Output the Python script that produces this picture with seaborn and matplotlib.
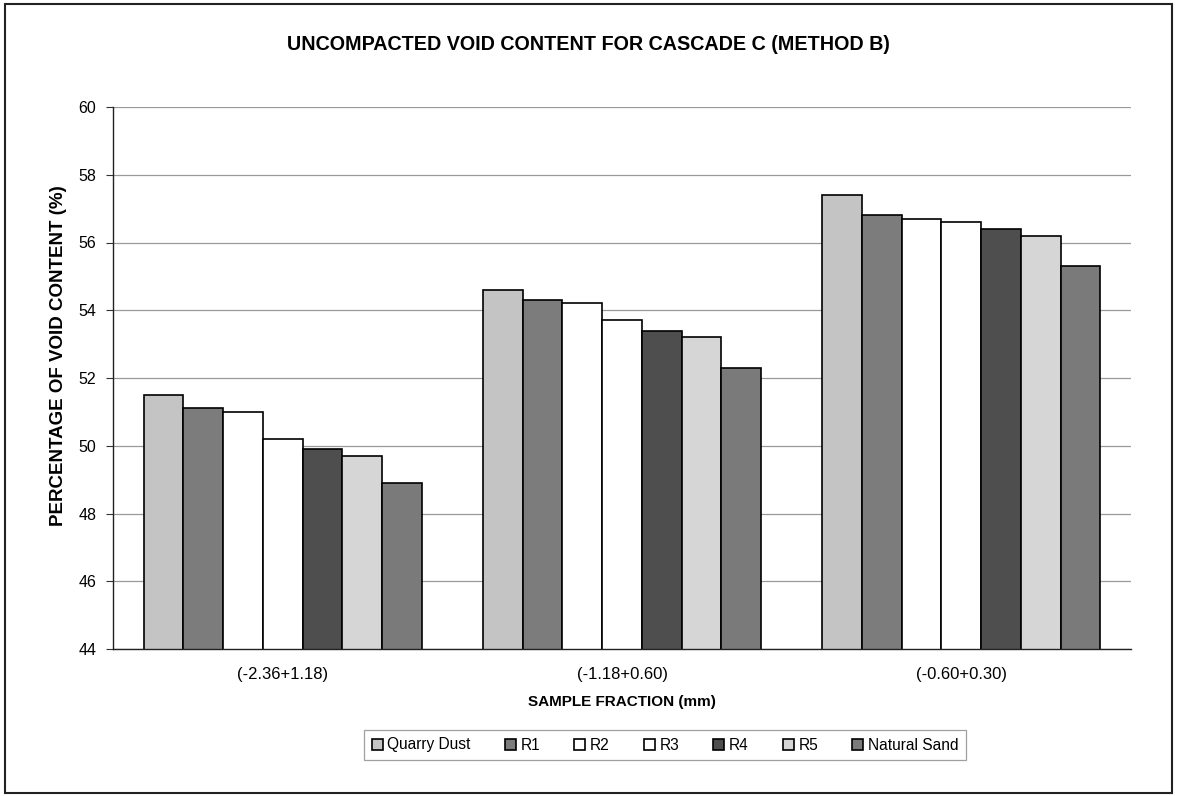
import matplotlib
matplotlib.use("Agg")
import matplotlib.pyplot as plt
from matplotlib.patches import Rectangle
import seaborn as sns
import pandas as pd

# Sample fractions (mm) and materials
fractions = ["(-2.36+1.18)", "(-1.18+0.60)", "(-0.60+0.30)"]
materials = ["Quarry Dust", "R1", "R2", "R3", "R4", "R5", "Natural Sand"]

# Uncompacted void content (%) per material, one value per fraction
quarry_dust = [51.5, 54.6, 57.4]
r1 = [51.1, 54.3, 56.8]
r2 = [51.0, 54.2, 56.7]
r3 = [50.2, 53.7, 56.6]
r4 = [49.9, 53.4, 56.4]
r5 = [49.7, 53.2, 56.2]
natural_sand = [48.9, 52.3, 55.3]

y_ticks = [44, 46, 48, 50, 52, 54, 56, 58, 60]

series = [quarry_dust, r1, r2, r3, r4, r5, natural_sand]
df = pd.DataFrame(
    [(f, m, v) for m, vals in zip(materials, series) for f, v in zip(fractions, vals)],
    columns=["fraction", "material", "void"],
)

palette = ["#c4c4c4", "#7c7c7c", "#ffffff", "#ffffff", "#4e4e4e", "#d6d6d6", "#7a7a7a"]

sns.set_theme(style="white")
plt.rcParams["font.family"] = ["Liberation Sans", "DejaVu Sans"]
plt.rcParams["text.color"] = "black"
plt.rcParams["axes.labelcolor"] = "black"
plt.rcParams["xtick.color"] = "black"
plt.rcParams["ytick.color"] = "black"

fig = plt.figure(figsize=(11.77, 7.96), dpi=100)
ax = fig.add_axes([113 / 1177, 1 - 649 / 796, 1018 / 1177, 542 / 796])

sns.barplot(
    data=df, x="fraction", y="void", hue="material",
    order=fractions, hue_order=materials, palette=palette,
    width=0.82, edgecolor="black", linewidth=1.2, saturation=1,
    ax=ax, legend=True,
)

ax.set_ylim(44, 60)
ax.set_xlim(-0.5, 2.5)
ax.set_yticks(y_ticks)
ax.set_yticklabels([str(t) for t in y_ticks], fontsize=11.5)
ax.tick_params(axis="x", labelsize=12, length=0, pad=13)
ax.tick_params(axis="y", direction="out", length=5, width=0.8, color="#333333", left=True, pad=7)
ax.yaxis.grid(True, color="#9a9a9a", linewidth=0.9)
ax.set_axisbelow(True)

for side in ["top", "right"]:
    ax.spines[side].set_visible(False)
for side in ["left", "bottom"]:
    ax.spines[side].set_color("#222222")
    ax.spines[side].set_linewidth(1.0)

ax.set_xlabel("SAMPLE FRACTION (mm)", fontsize=11, fontweight="bold", labelpad=9)
ax.set_ylabel("PERCENTAGE OF VOID CONTENT (%)", fontsize=13.5, fontweight="bold")
ax.yaxis.set_label_coords(-0.045, 0.542)

fig.text(0.5, 1 - 45 / 796, "UNCOMPACTED VOID CONTENT FOR CASCADE C (METHOD B)",
         ha="center", va="center", fontsize=14.2, fontweight="bold")

handles, labels = ax.get_legend_handles_labels()
ax.legend_.remove()
leg = fig.legend(
    handles, labels, loc="center", bbox_to_anchor=(665 / 1177, 1 - 745 / 796),
    ncol=7, fontsize=11.2, frameon=True, fancybox=False, handlelength=0.7,
    handleheight=0.7, handletextpad=0.3, columnspacing=2.2, borderpad=0.5,
)
leg.get_frame().set_edgecolor("#888888")
leg.get_frame().set_linewidth(0.9)

# Outer chart border
fig.patches.append(Rectangle((5 / 1177, 3 / 796), 1167 / 1177, 789 / 796,
                             transform=fig.transFigure, fill=False,
                             edgecolor="#222222", linewidth=1.5))

fig.savefig("out.png", dpi=100, facecolor="white")
